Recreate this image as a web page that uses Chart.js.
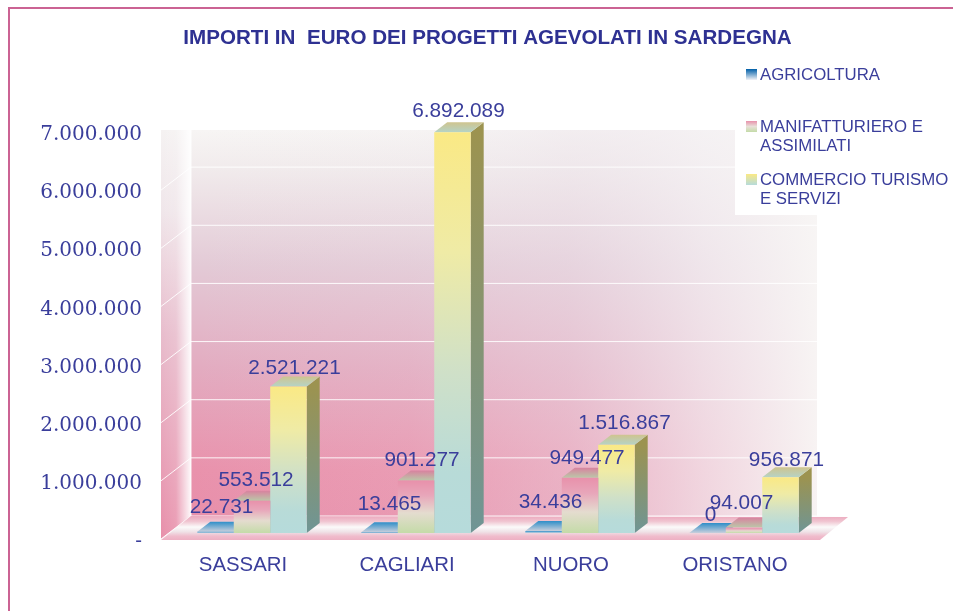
<!DOCTYPE html>
<html><head><meta charset="utf-8">
<style>html,body{margin:0;padding:0;background:#fff}canvas{display:block}</style>
<script src="https://cdn.jsdelivr.net/npm/chart.js@4"></script>
</head><body><canvas id="c" width="953" height="611"></canvas>
<script>
const categories = ['SASSARI','CAGLIARI','NUORO','ORISTANO'];
const agricoltura = [22731,13465,34436,0];
const manifatturiero = [553512,901277,949477,94007];
const commercio = [2521221,6892089,1516867,956871];
const seriesNames = ['AGRICOLTURA','MANIFATTURIERO E ASSIMILATI','COMMERCIO TURISMO E SERVIZI'];
const titleText = 'IMPORTI IN  EURO DEI PROGETTI AGEVOLATI IN SARDEGNA';

// styling & layout, separate from the data
const INK='#3A3E9B';
const legendLines=[['AGRICOLTURA'],['MANIFATTURIERO E','ASSIMILATI'],['COMMERCIO TURISMO','E SERVIZI']];
const legendY=[74,126,179];
const labelDx=[[6,10,7,3],[4,6,7,-2.5],[6,6,8,6]];
const labelDy=[[-24,-28,-29,-18],[-21,-20,-20,-24],[-18,-21,-22,-17]];
const frontStops=[
 [[0,'#2E8EC8'],[1,'#C8D4E0']],
 [[0,'#E891AB'],[0.28,'#E8A6BA'],[0.62,'#E4DCCF'],[1,'#C4DBA8']],
 [[0,'#FAE985'],[0.3,'#EFEBA6'],[0.6,'#CFE0C8'],[0.85,'#B8DBD8'],[1,'#B6DBDB']]
];
const sideStops=[[[0,'#2E7FB0'],[1,'#7FA0B0']],[[0,'#A67F8F'],[1,'#7F9A80']],[[0,'#9C9350'],[1,'#6F9595']]];
const topStops=[[[0,'#2E8EC8'],[1,'#C8CFDC']],[[0,'#D8829F'],[1,'#BAC8A8']],[[0,'#CFC48E'],[1,'#B5D3C6']]];
const legendStops=[[[0,'#005FA8'],[1,'#F2F2F6']],[[0,'#E891AB'],[0.5,'#E8E0D8'],[1,'#C4DBA8']],[[0,'#FAE985'],[1,'#B6DBDB']]];
const SHIFT={x:9,y:-6}, BAR_DEPTH={x:13,y:-10}, WALL={x:30,y:-23};

function grad(ctx,x0,y0,x1,y1,stops){const g=ctx.createLinearGradient(x0,y0,x1,y1);stops.forEach(s=>g.addColorStop(s[0],s[1]));return g;}
function poly(ctx,pts,fill){ctx.beginPath();pts.forEach((p,i)=>i?ctx.lineTo(p[0],p[1]):ctx.moveTo(p[0],p[1]));ctx.closePath();ctx.fillStyle=fill;ctx.fill();}
function fmt(v){return String(v).replace(/\B(?=(\d{3})+(?!\d))/g,'.');}

const scene={
 id:'scene',
 afterLayout(chart){const t=chart.titleBlock;t.left-=1.5;t.right-=1.5;},
 beforeDraw(chart){
  const c=chart.ctx,a=chart.chartArea,y=chart.scales.y;
  const L=a.left,R=a.right,B=a.bottom;
  const bx0=L+WALL.x,bx1=R,by=B+WALL.y,top=130;
  // border
  c.fillStyle='#fff';c.fillRect(0,0,953,611);
  c.fillStyle='#CB6393';c.fillRect(8,7,945,2);c.fillRect(8,7,2,604);
  // back wall
  c.fillStyle=grad(c,0,top,0,by,[[0,'#F7F5F4'],[0.1,'#F1EBEC'],[0.35,'#E3CAD6'],[0.62,'#E3ABC0'],[0.88,'#E992AC'],[1,'#E88FAA']]);
  c.fillRect(bx0,top,bx1-bx0,by-top);
  c.fillStyle=grad(c,bx0,0,bx1,0,[[0,'rgba(240,236,240,0)'],[0.35,'rgba(238,232,238,0.12)'],[0.6,'rgba(236,226,234,0.4)'],[0.82,'rgba(244,240,243,0.72)'],[1,'rgba(248,246,245,0.97)']]);
  c.fillRect(bx0,top,bx1-bx0,by-top);
  // left wall
  poly(c,[[L,top],[bx0,top],[bx0,by],[L,B]],grad(c,0,top,0,B,[[0,'#F5F2F2'],[0.2,'#F0E6EA'],[0.5,'#E8BCCC'],[1,'#E88FAA']]));
  poly(c,[[L,top],[bx0,top],[bx0,by],[L,B]],grad(c,L,0,bx0,0,[[0,'rgba(255,255,255,0)'],[0.5,'rgba(255,255,255,0.12)'],[1,'rgba(255,255,255,0.95)']]));
  // grid
  c.strokeStyle='rgba(255,255,255,0.9)';c.lineWidth=1;
  y.ticks.forEach(t=>{
   const py=y.getPixelForValue(t.value);
   if(py+WALL.y<top) return;
   c.beginPath();c.moveTo(L,py);c.lineTo(bx0,py+WALL.y);c.lineTo(bx1,py+WALL.y);c.stroke();
  });
  c.beginPath();c.moveTo(bx0,top);c.lineTo(bx0,by);c.stroke();
  // floor
  poly(c,[[L,B+1],[bx0,by],[R+31,by+1],[R+3,B+1]],grad(c,0,by,0,B+1,[[0,'#ECA9BE'],[0.22,'#F0C4D0'],[0.46,'#FBFAFA'],[0.66,'#EFE2E7'],[0.84,'#F0BCCC'],[1,'#EDB0C3']]));
  // white legend panel
  c.fillStyle='#fff';c.fillRect(735,50,218,165);
 },
 beforeDatasetsDraw(chart){
  const c=chart.ctx;
  c.save();c.translate(SHIFT.x,SHIFT.y);
  chart.data.datasets.forEach((d,i)=>{
   chart.getDatasetMeta(i).data.forEach(b=>{
    const l=b.x-b.width/2,r=b.x+b.width/2,t=b.y,base=b.base,dx=BAR_DEPTH.x,dy=BAR_DEPTH.y;
    poly(c,[[r,t],[r+dx,t+dy],[r+dx,base+dy],[r,base]],grad(c,0,t,0,base,sideStops[i]));
    poly(c,[[l,t],[l+dx,t+dy],[r+dx,t+dy],[r,t]],grad(c,0,t+dy,0,t,topStops[i]));
   });
  });
 },
 afterDatasetsDraw(chart){
  const c=chart.ctx;
  c.restore();
  c.font='20.8px "Liberation Sans", Arial, sans-serif';c.fillStyle=INK;c.textAlign='center';c.textBaseline='middle';
  chart.data.datasets.forEach((d,i)=>{
   chart.getDatasetMeta(i).data.forEach((b,j)=>{
    c.fillText(fmt(d.data[j]),b.x+SHIFT.x+labelDx[i][j],b.y+SHIFT.y+labelDy[i][j]);
   });
  });
  // legend
  c.textAlign='left';c.font='16.8px "Liberation Sans", Arial, sans-serif';
  legendLines.forEach((ls,i)=>{
   c.fillStyle=grad(c,0,legendY[i]-5,0,legendY[i]+6,legendStops[i]);
   c.fillRect(746,legendY[i]-5,11,11);
   c.fillStyle=INK;
   ls.forEach((t,k)=>c.fillText(t,760,legendY[i]+1+k*19.5));
  });
 }
};

const ctxCanvas=document.getElementById('c');
new Chart(ctxCanvas,{
 type:'bar',
 data:{labels:categories,datasets:[agricoltura,manifatturiero,commercio].map((vals,i)=>({
  label:seriesNames[i],data:vals,borderWidth:0,clip:false,
  backgroundColor(ctx){
   const ch=ctx.chart,s=ch.scales.y;
   const v=vals[ctx.dataIndex];
   const y0=s?s.getPixelForValue(v):NaN,y1=s?s.getPixelForValue(0):NaN;
   if(!Number.isFinite(y0)||!Number.isFinite(y1)) return frontStops[i][0][1];
   return grad(ch.ctx,0,y0,0,y1,frontStops[i]);
  }
 }))},
 plugins:[scene],
 options:{
  responsive:false,animation:false,
  layout:{padding:{left:0,right:136,top:0,bottom:0}},
  datasets:{bar:{categoryPercentage:0.667,barPercentage:1}},
  plugins:{
   legend:{display:false},tooltip:{enabled:false},
   title:{display:true,text:titleText,fullSize:false,color:'#2E3192',
    font:{family:'"Liberation Sans", Arial, sans-serif',size:20.6,weight:'bold',lineHeight:'24px'},
    padding:{top:26,bottom:82}}
  },
  scales:{
   x:{grid:{display:false},border:{display:false},
    ticks:{color:INK,padding:6,maxRotation:0,font:{family:'"Liberation Sans", Arial, sans-serif',size:20.4}},
    afterFit(s){s.height=72;}},
   y:{min:0,max:7000000,grid:{display:false},border:{display:false},
    afterFit(s){s.width=161;},
    ticks:{stepSize:1000000,color:INK,padding:11,labelOffset:3,font:{family:'"DejaVu Serif", serif',size:20},
     callback(v){return v===0?'-':fmt(v);}}}
  }
 }
});
</script></body></html>
